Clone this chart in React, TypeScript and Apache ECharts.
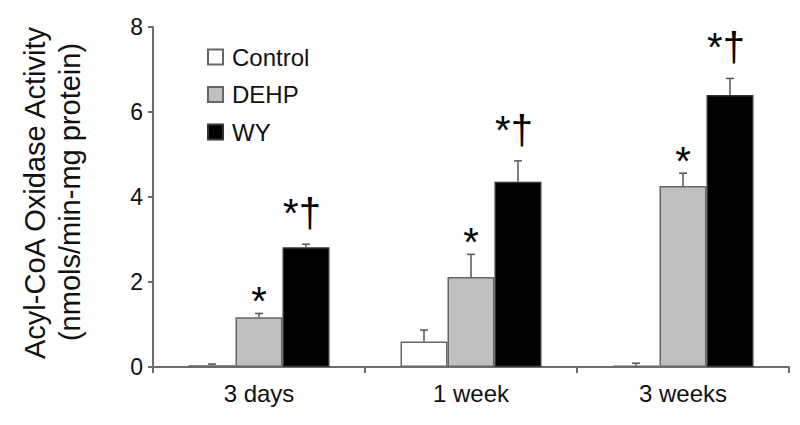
import React, { useEffect, useRef } from "react";
import * as echarts from "echarts";

const categories = ["3 days", "1 week", "3 weeks"];
const seriesNames = ["Control", "DEHP", "WY"];
const controlMean = [0.04, 0.6, 0.03];
const controlUpper = [0.07, 0.87, 0.09];
const dehpMean = [1.17, 2.12, 4.26];
const dehpUpper = [1.26, 2.65, 4.56];
const wyMean = [2.82, 4.36, 6.4];
const wyUpper = [2.89, 4.85, 6.79];
const controlMarks = ["", "", ""];
const dehpMarks = ["*", "*", "*"];
const wyMarks = ["*†", "*†", "*†"];
const yTicks = [0, 2, 4, 6, 8];

const GAP = 0.335;

function errSeries(name: string, means: number[], uppers: number[], marks: string[], offset: number) {
  return {
    type: "custom",
    name: name + " err",
    z: 5,
    silent: true,
    data: means.map((m, i) => [i, m, uppers[i], marks[i]]),
    encode: { x: 0, y: 2 },
    renderItem: (params: any, api: any) => {
      const ci = api.value(0);
      const mean = api.value(1);
      const up = api.value(2);
      const mark = marks[params.dataIndex];
      const base = api.coord([ci, mean]);
      const top = api.coord([ci, up]);
      const band = api.size([1, 0])[0];
      const bw = (band * (1 - GAP)) / 3;
      const x = base[0] + offset * bw;
      const children: any[] = [
        {
          type: "line",
          shape: { x1: x, y1: base[1], x2: x, y2: top[1] },
          style: { stroke: "#555", lineWidth: 1.5 },
        },
        {
          type: "line",
          shape: { x1: x - 4, y1: top[1], x2: x + 4, y2: top[1] },
          style: { stroke: "#555", lineWidth: 1.5 },
        },
      ];
      if (mark === "*") {
        children.push({
          type: "text",
          x: x,
          y: top[1] - 12,
          style: {
            text: "*",
            font: "40px 'Liberation Sans', Arial, sans-serif",
            fill: "#000",
            align: "center",
            verticalAlign: "middle",
          },
        });
      } else if (mark) {
        children.push({
          type: "text",
          x: x - 4,
          y: top[1] - 31,
          style: {
            text: mark,
            font: "40px 'Liberation Sans', Arial, sans-serif",
            fill: "#000",
            align: "center",
            verticalAlign: "middle",
          },
        });
      }
      return { type: "group", children };
    },
  };
}

export default function App() {
  const ref = useRef<HTMLDivElement>(null);
  useEffect(() => {
    if (!ref.current) return;
    document.body.style.margin = "0";
    const chart = echarts.init(ref.current, undefined, { renderer: "svg" });
    const font = "'Liberation Sans', Arial, sans-serif";
    chart.setOption({
      animation: false,
      backgroundColor: "#fff",
      grid: { left: 153, right: 11, top: 27, bottom: 58, containLabel: false },
      legend: {
        data: seriesNames,
        orient: "vertical",
        left: 202,
        top: 40,
        itemWidth: 15,
        itemHeight: 15,
        itemGap: 13.5,
        icon: "rect",
        textStyle: { fontFamily: font, fontSize: 24, color: "#111", padding: [0, 0, 0, 4] },
      },
      graphic: [
        {
          type: "text",
          x: 35,
          y: 193,
          rotation: Math.PI / 2,
          style: {
            text: "Acyl-CoA Oxidase Activity",
            font: "29px " + font,
            fill: "#111",
            align: "center",
            verticalAlign: "middle",
          },
        },
        {
          type: "text",
          x: 70,
          y: 192,
          rotation: Math.PI / 2,
          style: {
            text: "(nmols/min-mg protein)",
            font: "29px " + font,
            fill: "#111",
            align: "center",
            verticalAlign: "middle",
          },
        },
      ],
      xAxis: {
        type: "category",
        data: categories,
        axisLine: { lineStyle: { color: "#6e6e6e", width: 2 } },
        axisTick: { show: true, alignWithLabel: false, length: 6, lineStyle: { color: "#6e6e6e", width: 2 } },
        axisLabel: { fontFamily: font, fontSize: 24, color: "#111", margin: 14 },
      },
      yAxis: {
        type: "value",
        min: yTicks[0],
        max: yTicks[yTicks.length - 1],
        interval: 2,
        splitLine: { show: false },
        axisLine: { show: true, lineStyle: { color: "#6e6e6e", width: 2 } },
        axisTick: { show: true, length: 5, lineStyle: { color: "#6e6e6e", width: 2 } },
        axisLabel: { fontFamily: font, fontSize: 23, color: "#111", margin: 10 },
      },
      series: [
        {
          type: "bar",
          name: "Control",
          data: controlMean,
          barGap: "0%",
          barCategoryGap: GAP * 100 + "%",
          itemStyle: { color: "#ffffff", borderColor: "#666", borderWidth: 1.5 },
        },
        {
          type: "bar",
          name: "DEHP",
          data: dehpMean,
          itemStyle: { color: "#c0c0c0", borderColor: "#666", borderWidth: 1.5 },
        },
        {
          type: "bar",
          name: "WY",
          data: wyMean,
          itemStyle: { color: "#000000", borderColor: "#333", borderWidth: 1.5 },
        },
        errSeries("Control", controlMean, controlUpper, controlMarks, -1),
        errSeries("DEHP", dehpMean, dehpUpper, dehpMarks, 0),
        errSeries("WY", wyMean, wyUpper, wyMarks, 1),
      ],
    });
    return () => chart.dispose();
  }, []);
  return <div ref={ref} style={{ position: "absolute", left: 0, top: 0, width: 800, height: 425 }} />;
}
